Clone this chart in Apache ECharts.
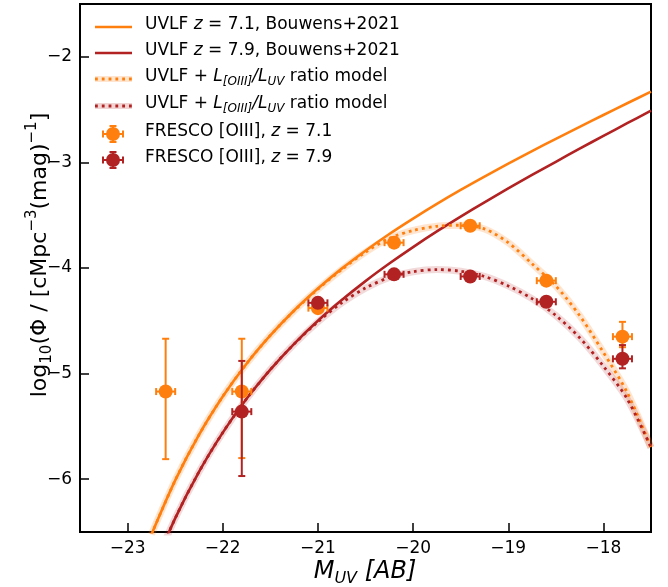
<!DOCTYPE html>
<html><head><meta charset="utf-8">
<script src="https://cdn.jsdelivr.net/npm/echarts@6/dist/echarts.min.js"></script>
<style>html,body{margin:0;padding:0;background:#fff}#c{width:668px;height:587px}</style>
</head><body><div id="c"></div>
<script>
// ---- data ----
const muv = [-22.75,-22.5,-22.25,-22.0,-21.75,-21.5,-21.25,-21.0,-20.75,-20.5,-20.25,-20.0,-19.75,-19.5,-19.25,-19.0,-18.75,-18.5,-18.25,-18.0,-17.75,-17.5];
const uvlf71 = [-6.525,-6.011,-5.580,-5.217,-4.906,-4.638,-4.402,-4.194,-4.006,-3.836,-3.678,-3.532,-3.393,-3.261,-3.135,-3.012,-2.893,-2.777,-2.663,-2.551,-2.440,-2.330];
const uvlf79 = [-6.894,-6.371,-5.931,-5.559,-5.239,-4.962,-4.718,-4.500,-4.304,-4.124,-3.958,-3.802,-3.654,-3.514,-3.378,-3.247,-3.119,-2.994,-2.870,-2.749,-2.629,-2.510];
const model71 = [-6.525,-6.011,-5.580,-5.217,-4.906,-4.638,-4.405,-4.200,-4.015,-3.850,-3.720,-3.645,-3.605,-3.595,-3.630,-3.760,-3.960,-4.170,-4.450,-4.800,-5.180,-5.700];
const model79 = [-6.894,-6.371,-5.931,-5.559,-5.239,-4.962,-4.720,-4.510,-4.330,-4.190,-4.090,-4.035,-4.015,-4.030,-4.080,-4.170,-4.290,-4.450,-4.660,-4.930,-5.240,-5.700];

const fresMuv71 = [-22.6,-21.8,-21.0,-20.2,-19.4,-18.6,-17.8];
const fresPhi71 = [-5.17,-5.17,-4.38,-3.76,-3.60,-4.12,-4.65];
const fresLo71  = [-5.81,-5.80,-4.41,-3.79,-3.63,-4.15,-4.75];
const fresHi71  = [-4.67,-4.67,-4.35,-3.73,-3.57,-4.09,-4.51];
const fresMuv79 = [-21.8,-21.0,-20.2,-19.4,-18.6,-17.8];
const fresPhi79 = [-5.36,-4.33,-4.06,-4.08,-4.32,-4.86];
const fresLo79  = [-5.97,-4.36,-4.09,-4.11,-4.35,-4.95];
const fresHi79  = [-4.88,-4.30,-4.03,-4.05,-4.29,-4.73];
const muvErr = 0.1;

const xTicks = [-23,-22,-21,-20,-19,-18];
const yTicks = [-6,-5,-4,-3,-2];

// ---- styling ----
const ORANGE = '#ff7f0e';
const RED = '#b22222';
const FONT = 'DejaVu Sans';

const zip = (a,b) => a.map((v,i)=>[v,b[i]]);
const fmt = v => (v<0?'\u2212':'') + Math.abs(v);

function errRender(color){
  return function(params, api){
    const x=api.value(0), y=api.value(1), xe=api.value(2), lo=api.value(3), hi=api.value(4);
    const pL=api.coord([x-xe,y]), pR=api.coord([x+xe,y]), pT=api.coord([x,hi]), pB=api.coord([x,lo]);
    const c=3.5;
    const segs=[[pL,pR],[pT,pB],
      [[pL[0],pL[1]-c],[pL[0],pL[1]+c]],[[pR[0],pR[1]-c],[pR[0],pR[1]+c]],
      [[pT[0]-c,pT[1]],[pT[0]+c,pT[1]]],[[pB[0]-c,pB[1]],[pB[0]+c,pB[1]]]];
    return {type:'group', children: segs.map(s=>({type:'line',
      shape:{x1:s[0][0],y1:s[0][1],x2:s[1][0],y2:s[1][1]},
      style:{stroke:color,lineWidth:2}}))};
  };
}
const errData = (m,p,lo,hi) => m.map((v,i)=>[v,p[i],muvErr,lo[i],hi[i]]);

const chart = echarts.init(document.getElementById('c'), null, {renderer:'canvas'});

// legend (manual, drawn as graphics)
const legX = 145, rows=[27,53,79,106,134,160];
const mainTok = {fontSize:17, fontFamily:FONT, lineHeight:22, fill:'#000'};
const itTok = {fontSize:17, fontFamily:FONT, fontStyle:'italic', lineHeight:22, fill:'#000'};
const subTok = {fontSize:12, fontFamily:FONT, fontStyle:'italic', lineHeight:12, verticalAlign:'bottom', fill:'#000'};
const legRich = {t:mainTok, i:itTok, s:subTok};
const legTexts = [
  '{t|UVLF }{i|z}{t| = 7.1, Bouwens+2021}',
  '{t|UVLF }{i|z}{t| = 7.9, Bouwens+2021}',
  '{t|UVLF + }{i|L}{s|[OIII]}{i|/L}{s|UV}{t| ratio model}',
  '{t|UVLF + }{i|L}{s|[OIII]}{i|/L}{s|UV}{t| ratio model}',
  '{t|FRESCO [OIII], }{i|z}{t| = 7.1}',
  '{t|FRESCO [OIII], }{i|z}{t| = 7.9}'
];
const legColors=[ORANGE,RED,ORANGE,RED,ORANGE,RED];
const graphics = [];
legTexts.forEach((t,i)=>{
  graphics.push({type:'text', left:legX, top:rows[i]-11, style:{text:t, rich:legRich, verticalAlign:'top'}});
});
[0,1].forEach(i=>graphics.push({type:'line', shape:{x1:95,y1:rows[i],x2:132,y2:rows[i]}, style:{stroke:legColors[i],lineWidth:2.6}}));
[2,3].forEach(i=>{
  graphics.push({type:'line', shape:{x1:95,y1:rows[i],x2:132,y2:rows[i]}, style:{stroke:legColors[i],lineWidth:6,opacity:0.2}});
  graphics.push({type:'line', shape:{x1:95,y1:rows[i],x2:132,y2:rows[i]}, style:{stroke:legColors[i],lineWidth:2.8,lineDash:[2.8,4]}});
});
[4,5].forEach(i=>{
  const cx=113, cy=rows[i], col=legColors[i];
  const segs=[[cx-10,cy,cx+10,cy],[cx,cy-8,cx,cy+8],[cx-10,cy-3.5,cx-10,cy+3.5],[cx+10,cy-3.5,cx+10,cy+3.5],[cx-3.5,cy-8,cx+3.5,cy-8],[cx-3.5,cy+8,cx+3.5,cy+8]];
  segs.forEach(s=>graphics.push({type:'line', shape:{x1:s[0],y1:s[1],x2:s[2],y2:s[3]}, style:{stroke:col,lineWidth:2}}));
  graphics.push({type:'circle', shape:{cx:cx,cy:cy,r:7}, style:{fill:col}});
});
// axis titles
graphics.push({type:'text', x:365, y:572, style:{
  text:'{i|M}{s|UV}{i| [AB]}', align:'center', verticalAlign:'middle',
  rich:{i:{fontSize:24,fontFamily:FONT,fontStyle:'italic',lineHeight:30,fill:'#000'},
        s:{fontSize:16,fontFamily:FONT,fontStyle:'italic',lineHeight:18,verticalAlign:'bottom',fill:'#000'}}}});
graphics.push({type:'text', x:40, y:255, rotation:Math.PI/2, style:{
  text:'{n|log}{b|10}{n|(Φ / [cMpc}{p|\u22123}{n|(mag)}{p|\u22121}{n|]}', align:'center', verticalAlign:'middle',
  rich:{n:{fontSize:22,fontFamily:FONT,lineHeight:30,fill:'#000'},
        b:{fontSize:15,fontFamily:FONT,lineHeight:14,verticalAlign:'bottom',fill:'#000'},
        p:{fontSize:15,fontFamily:FONT,lineHeight:14,verticalAlign:'top',fill:'#000'}}}});

const option = {
  animation:false,
  backgroundColor:'#fff',
  grid:{left:80,right:17,top:4,bottom:55,show:true,borderColor:'#000',borderWidth:2,backgroundColor:'transparent'},
  xAxis:{type:'value',min:-23.5,max:-17.5,
    axisLine:{show:true,lineStyle:{color:'#000',width:2}},
    axisTick:{show:true,inside:true,length:9,customValues:xTicks,lineStyle:{color:'#000',width:1.5}},
    axisLabel:{customValues:xTicks,formatter:fmt,color:'#000',fontSize:17,fontFamily:FONT,margin:8},
    splitLine:{show:false}},
  yAxis:{type:'value',min:-6.5,max:-1.5,
    axisLine:{show:true,lineStyle:{color:'#000',width:2}},
    axisTick:{show:true,inside:true,length:9,customValues:yTicks,lineStyle:{color:'#000',width:1.5}},
    axisLabel:{customValues:yTicks,formatter:fmt,color:'#000',fontSize:17,fontFamily:FONT,margin:8},
    splitLine:{show:false}},
  graphic:graphics,
  series:[
    {type:'line',data:zip(muv,model71),smooth:0.3,symbol:'none',z:2,lineStyle:{color:ORANGE,width:7,opacity:0.2}},
    {type:'line',data:zip(muv,model79),smooth:0.3,symbol:'none',z:2,lineStyle:{color:RED,width:7,opacity:0.17}},
    {type:'line',data:zip(muv,uvlf71),smooth:0.3,symbol:'none',z:3,lineStyle:{color:ORANGE,width:2.6}},
    {type:'line',data:zip(muv,uvlf79),smooth:0.3,symbol:'none',z:3,lineStyle:{color:RED,width:2.6}},
    {type:'line',data:zip(muv,model71),smooth:0.3,symbol:'none',z:4,lineStyle:{color:ORANGE,width:2.8,type:[2.8,4]}},
    {type:'line',data:zip(muv,model79),smooth:0.3,symbol:'none',z:4,lineStyle:{color:RED,width:2.8,type:[2.8,4]}},
    {type:'custom',data:errData(fresMuv71,fresPhi71,fresLo71,fresHi71),renderItem:errRender(ORANGE),encode:{x:0,y:1},z:5},
    {type:'scatter',data:zip(fresMuv71,fresPhi71),symbol:'circle',symbolSize:14,itemStyle:{color:ORANGE,opacity:1},z:6},
    {type:'custom',data:errData(fresMuv79,fresPhi79,fresLo79,fresHi79),renderItem:errRender(RED),encode:{x:0,y:1},z:7},
    {type:'scatter',data:zip(fresMuv79,fresPhi79),symbol:'circle',symbolSize:14,itemStyle:{color:RED,opacity:1},z:8}
  ]
};
chart.setOption(option);
</script></body></html>
